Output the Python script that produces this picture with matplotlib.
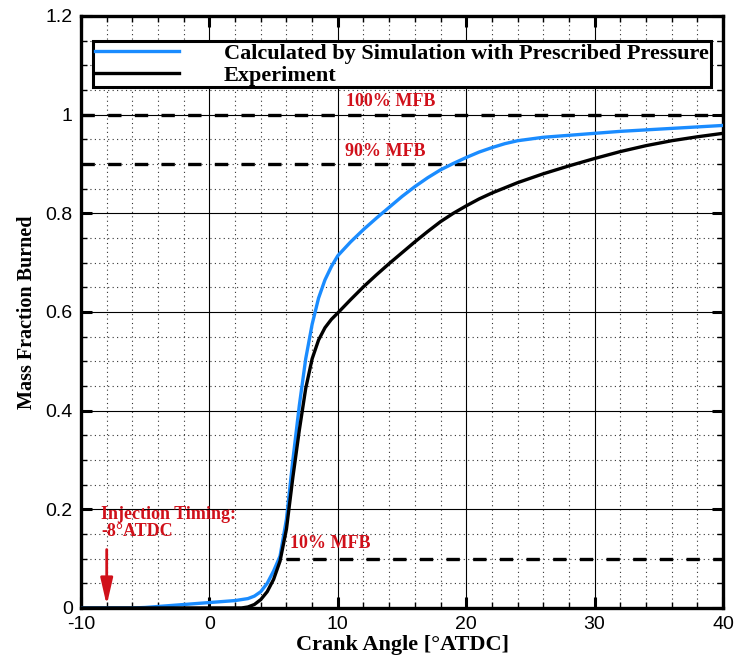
import matplotlib.pyplot as plt
import numpy as np
from matplotlib.ticker import MultipleLocator

plt.rcParams['axes.unicode_minus'] = False

# crank angle [deg ATDC] and mass fraction burned
sim_ca = [-10, -6, -5, -4, -3, -2, -1, 0, 1, 2, 3, 3.5, 4, 4.5, 5, 5.5, 6, 6.5, 7, 7.5,
          8, 8.5, 9, 9.5, 10, 11, 12, 13, 14, 15, 16, 17, 18, 19, 20, 21, 22, 23, 24,
          26, 28, 30, 32, 34, 36, 38, 40]
sim_mfb = [0, 0, 0.001, 0.003, 0.005, 0.007, 0.009, 0.011, 0.013, 0.015, 0.019, 0.024,
           0.033, 0.05, 0.075, 0.105, 0.18, 0.3, 0.41, 0.505, 0.575, 0.628, 0.665, 0.692,
           0.714, 0.742, 0.767, 0.79, 0.812, 0.834, 0.854, 0.872, 0.888, 0.901, 0.913,
           0.924, 0.933, 0.941, 0.947, 0.954, 0.958, 0.962, 0.966, 0.969, 0.972, 0.975,
           0.978]

exp_ca = [-10, 2.5, 3, 3.5, 4, 4.5, 5, 5.5, 6, 6.5, 7, 7.5, 8, 8.5, 9, 9.5, 10, 11, 12,
          13, 14, 15, 16, 17, 18, 19, 20, 21, 22, 24, 26, 28, 30, 32, 34, 36, 38, 40]
exp_mfb = [0, 0, 0.002, 0.007, 0.017, 0.033, 0.058, 0.095, 0.16, 0.265, 0.36, 0.445,
           0.505, 0.543, 0.568, 0.585, 0.598, 0.625, 0.651, 0.675, 0.698, 0.72, 0.742,
           0.763, 0.783, 0.8, 0.815, 0.829, 0.841, 0.862, 0.88, 0.896, 0.911, 0.925,
           0.937, 0.947, 0.955, 0.962]

# reference MFB levels and the crank angle span of each dashed line
mfb_levels = [1.0, 0.9, 0.1]
mfb_spans = [(-10, 40), (-10, 20), (6, 40)]
mfb_labels = ['100% MFB', '90% MFB', '10% MFB']

inj_ca = -8

ytick_vals = [0, 0.2, 0.4, 0.6, 0.8, 1.0, 1.2]
ytick_labels = ['0', '0.2', '0.4', '0.6', '0.8', '1', '1.2']

serif = ['Liberation Serif', 'DejaVu Serif']
red = '#d0101a'

fig = plt.figure(figsize=(7.4, 6.63), dpi=100)
ax = fig.add_axes([0.1095, 0.083, 0.8675, 0.893])

ax.set_xlim(-10, 40)
ax.set_ylim(0, 1.2)
ax.xaxis.set_major_locator(MultipleLocator(10))
ax.xaxis.set_minor_locator(MultipleLocator(2))
ax.yaxis.set_minor_locator(MultipleLocator(0.05))
ax.set_yticks(ytick_vals)
ax.set_yticklabels(ytick_labels)

ax.grid(which='major', color='black', lw=0.8, ls='-')
ax.grid(which='minor', color='#333333', lw=0.8, ls=(0, (1, 3)))
ax.set_axisbelow(True)

ax.tick_params(which='both', direction='in', top=True, right=True)
ax.tick_params(which='major', length=8, width=2.2, labelsize=14, pad=6)
ax.tick_params(which='minor', length=4, width=1.0)
for lab in ax.get_xticklabels() + ax.get_yticklabels():
    lab.set_family(['Liberation Sans', 'DejaVu Sans'])
for sp in ax.spines.values():
    sp.set_linewidth(2.4)

for lvl, (x0, x1) in zip(mfb_levels, mfb_spans):
    ax.plot([x0, x1], [lvl, lvl], color='black', lw=2.4, ls=(0, (4, 4)), zorder=3)

ax.plot(sim_ca, sim_mfb, color='#1a8cff', lw=2.4, zorder=4,
        label='Calculated by Simulation with Prescribed Pressure')
ax.plot(exp_ca, exp_mfb, color='black', lw=2.4, zorder=4, label='Experiment')

txt = dict(color=red, fontweight='bold', family=serif, fontsize=13)
ax.text(14.1, 1.027, mfb_labels[0], ha='center', va='center', **txt)
ax.text(13.7, 0.925, mfb_labels[1], ha='center', va='center', **txt)
ax.text(6.3, 0.13, mfb_labels[2], ha='left', va='center', **txt)
ax.text(-8.45, 0.173, 'Injection Timing:\n-8°ATDC', ha='left', va='center',
        linespacing=1.0, **txt)
ax.annotate('', xy=(inj_ca, 0.0), xytext=(inj_ca, 0.124),
            arrowprops=dict(arrowstyle='-|>,head_length=1.0,head_width=0.23', color=red,
                            lw=2, mutation_scale=16),
            zorder=5)

leg = ax.legend(loc='upper left', bbox_to_anchor=(0.019, 0.957), fancybox=False,
                framealpha=1, edgecolor='black', borderpad=0.08, labelspacing=0.06,
                handlelength=3.8, handletextpad=2.0, borderaxespad=0,
                prop=dict(family=serif, weight='bold', size=16))
leg.get_frame().set_linewidth(2.2)

ax.set_xlabel('Crank Angle [°ATDC]', family=serif, fontweight='bold', fontsize=16,
              labelpad=1)
ax.set_ylabel('Mass Fraction Burned', family=serif, fontweight='bold', fontsize=14.5,
              labelpad=6)

fig.savefig('out.png', dpi=100)
